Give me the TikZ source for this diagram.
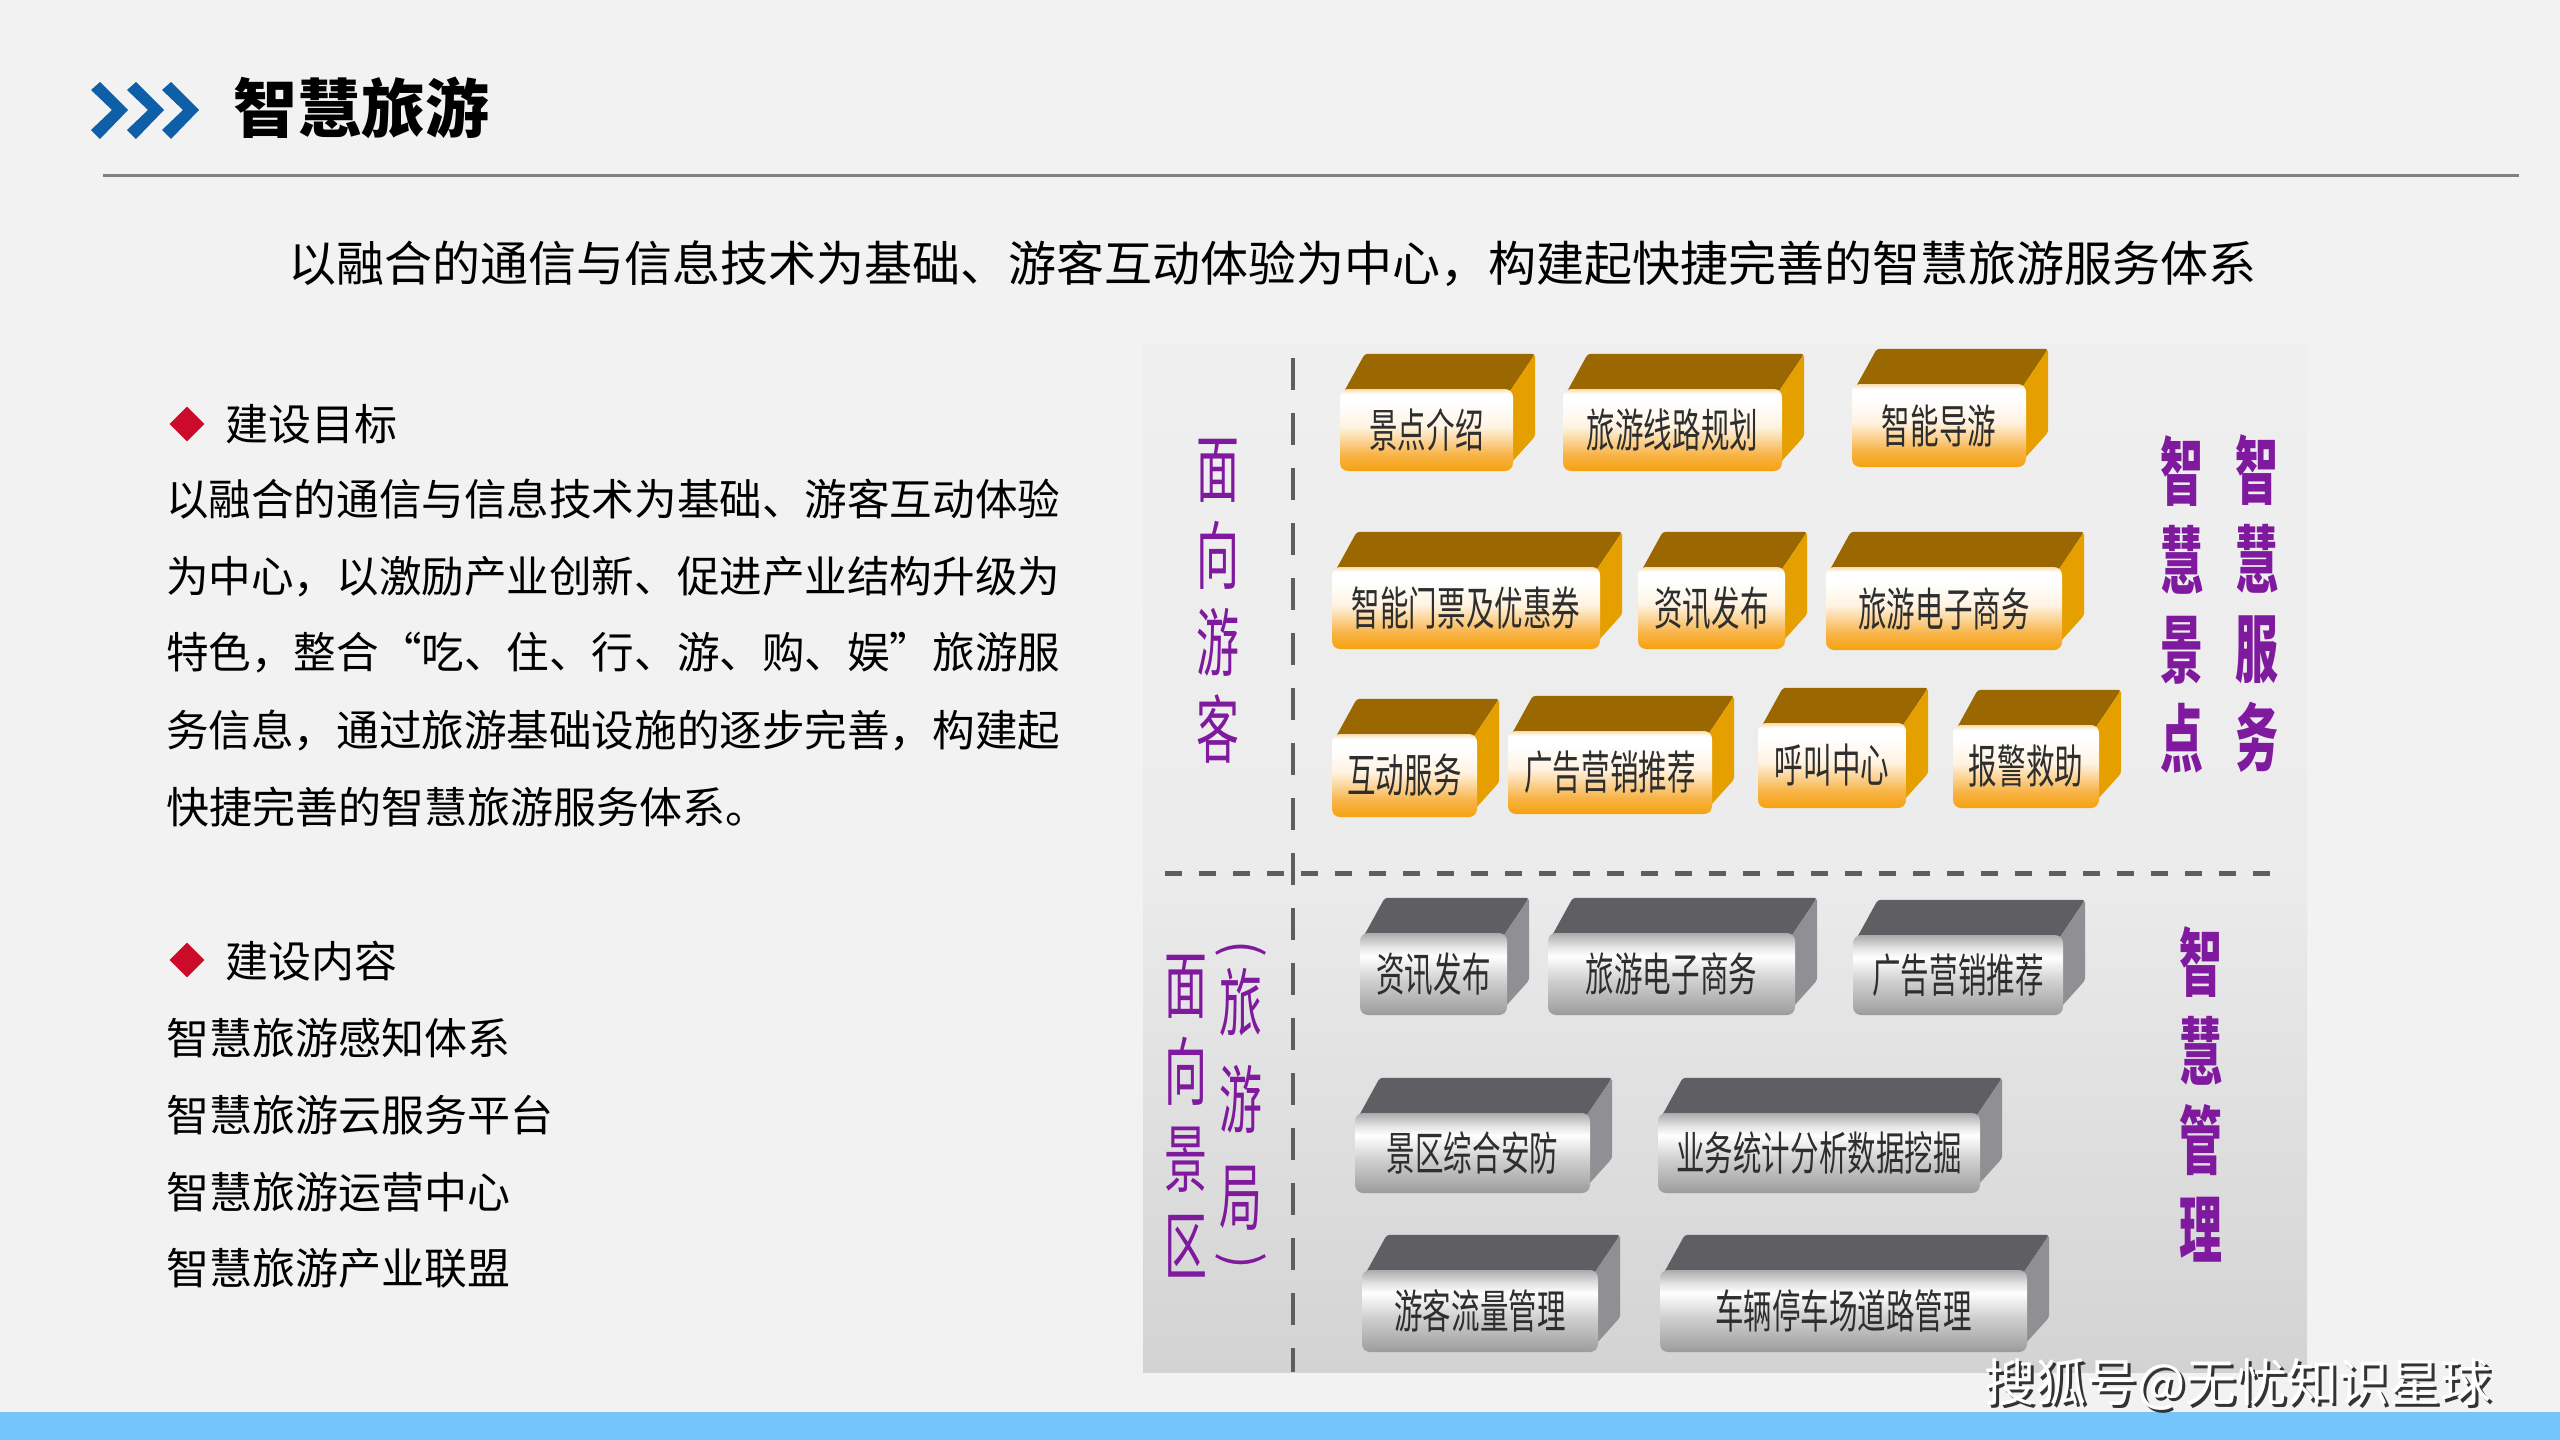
\documentclass[tikz,border=0pt]{standalone}
\usepackage{fontspec}
\usepackage{graphicx}
\usetikzlibrary{shapes.geometric}
\setmainfont{Noto Sans CJK SC}
\newfontfamily\cjk{Noto Sans CJK SC}
\newfontfamily\cjkn[FakeStretch=0.62]{Noto Sans CJK SC}
\newfontfamily\cjkp[FakeStretch=0.58]{Noto Sans CJK SC}

\definecolor{pagebg}{HTML}{F2F2F2}
\definecolor{chevc}{HTML}{0F5FA8}
\definecolor{rulec}{HTML}{808080}
\definecolor{diac}{HTML}{CC0A2A}
\definecolor{purp}{HTML}{7F1A9E}
\definecolor{barc}{HTML}{74C6FA}
\definecolor{dashc}{HTML}{5E5E5E}
\definecolor{txtg}{HTML}{2E2E2E}
\definecolor{gfa}{HTML}{F5A20F}
\definecolor{gfb}{HTML}{F8B448}
\definecolor{gfc}{HTML}{FFF3E2}
\definecolor{gfd}{HTML}{F9DDB0}
\definecolor{goldtopc}{HTML}{9A6700}
\definecolor{goldsidec}{HTML}{E5A000}
\definecolor{sfa}{HTML}{9A9A9A}
\definecolor{sfb}{HTML}{A6A6A6}
\definecolor{sfc}{HTML}{D2D2D2}
\definecolor{sfd}{HTML}{E2E2E2}
\definecolor{sfe}{HTML}{ABABAB}
\definecolor{graytopc}{HTML}{5F5F63}
\definecolor{graysidec}{HTML}{909094}
\definecolor{pna}{HTML}{D3D3D3}
\definecolor{pnb}{HTML}{ECECEC}
\definecolor{pnc}{HTML}{EFEFEF}

\pgfdeclareverticalshading{goldfrontsh}{100bp}{color(0bp)=(gfa); color(25bp)=(gfa); color(35bp)=(gfb); color(52bp)=(gfc); color(66bp)=(white); color(72bp)=(white); color(75bp)=(gfd); color(100bp)=(gfd)}
\pgfdeclareverticalshading{grayfrontsh}{100bp}{color(0bp)=(sfa); color(25bp)=(sfa); color(29bp)=(sfb); color(47bp)=(sfc); color(61bp)=(white); color(67bp)=(sfd); color(75bp)=(sfe); color(100bp)=(sfe)}
\pgfdeclareverticalshading{panelsh}{100bp}{color(0bp)=(pna); color(25bp)=(pna); color(50bp)=(pnb); color(75bp)=(pnc); color(100bp)=(pnc)}

\pgfdeclarelayer{bg}
\pgfdeclarelayer{faces}
\pgfsetlayers{bg,faces,main}

\tikzset{
  blockfront/.style={rounded corners=8pt, inner sep=0pt, text=txtg, font=\cjkn\fontsize{46}{50}\selectfont},
  goldfront/.style={blockfront, shading=goldfrontsh},
  grayfront/.style={blockfront, shading=grayfrontsh},
  goldtop/.style={fill=goldtopc, rounded corners=3pt},
  goldside/.style={fill=goldsidec, rounded corners=3pt},
  graytop/.style={fill=graytopc, rounded corners=3pt},
  grayside/.style={fill=graysidec, rounded corners=3pt},
  plabel/.style={text=purp, inner sep=0pt, align=center},
  bodytxt/.style={anchor=west, inner sep=0pt, text=black, font=\cjk\fontsize{43}{43}\selectfont},
  bullet/.style={diamond, fill=diac, inner sep=0pt, minimum size=35pt},
  vdash/.style={draw=dashc, line width=4pt, dash pattern=on 32pt off 23pt},
  hdash/.style={draw=dashc, line width=5pt, dash pattern=on 17pt off 17pt},
}

\newcommand\blk[7]{%
  \node[#6front, minimum width={#4-#2}, minimum height={#5-#3}] (#1) at ({(#2+#4)/2},{(#3+#5)/2}) {\raisebox{-4pt}{#7}};
  \begin{pgfonlayer}{faces}
    \fill[#6top] ([xshift=3pt,yshift=-5pt]#1.north west) -- ([shift={(25,-35)}]#1.north west) -- ([shift={(22,-35)}]#1.north east) -- ([xshift=-5pt,yshift=-5pt]#1.north east) -- cycle;
    \fill[#6side] ([xshift=-5pt,yshift=-5pt]#1.north east) -- ([shift={(22,-35)}]#1.north east) -- ([shift={(22,-35)}]#1.south east) -- ([xshift=-5pt,yshift=5pt]#1.south east) -- cycle;
  \end{pgfonlayer}}

\begin{document}
\begin{tikzpicture}[x=1pt,y=-1pt]
\useasboundingbox (0,0) rectangle (2560,1440);
\begin{pgfonlayer}{bg}
\fill[pagebg] (0,0) rectangle (2560,1440);
\fill[barc] (0,1412) rectangle (2560,1440);
\fill[shading=panelsh] (1143,344) rectangle (2307,1372);
\coordinate (vtop) at (1293,358);
\coordinate (vbot) at (1293,1372);
\coordinate (hleft) at (1165,873);
\coordinate (hright) at (2280,873);
\draw[vdash] (vtop) -- (vbot);
\draw[hdash] (hleft) -- (hright);
\end{pgfonlayer}

% title
\foreach \o in {0,36,71}{
  \fill[chevc] (100+\o,82) -- (128+\o,110) -- (100+\o,139) -- (91+\o,130) -- (112+\o,110) -- (91+\o,90) -- cycle;
}
\node[anchor=west, inner sep=0pt, font=\cjk\bfseries\fontsize{64}{64}\selectfont] (title) at (233,108) {智慧旅游};
\draw[rulec, line width=3pt] (103,175) -- (2519,175);

\node[inner sep=0pt, font=\cjk\fontsize{48}{48}\selectfont] (sub) at (1272,264) {以融合的通信与信息技术为基础、游客互动体验为中心，构建起快捷完善的智慧旅游服务体系};

% left text
\node[bullet] (d1) at (187,424) {};
\node[bodytxt] (h1) at (225,424) {建设目标};
\node[bodytxt] (p1) at (166,499) {\resizebox{894pt}{\height}{以融合的通信与信息技术为基础、游客互动体验}};
\node[bodytxt] (p2) at (166,577) {\resizebox{894pt}{\height}{为中心，以激励产业创新、促进产业结构升级为}};
\node[bodytxt] (p3) at (166,653) {\resizebox{894pt}{\height}{特色，整合“吃、住、行、游、购、娱”旅游服}};
\node[bodytxt] (p4) at (166,731) {\resizebox{894pt}{\height}{务信息，通过旅游基础设施的逐步完善，构建起}};
\node[bodytxt] (p5) at (166,807) {快捷完善的智慧旅游服务体系。};

\node[bullet] (d2) at (187,960) {};
\node[bodytxt] (h2) at (225,961) {建设内容};
\node[bodytxt] (c1) at (166,1038) {智慧旅游感知体系};
\node[bodytxt] (c2) at (166,1115) {智慧旅游云服务平台};
\node[bodytxt] (c3) at (166,1192) {智慧旅游运营中心};
\node[bodytxt] (c4) at (166,1268) {智慧旅游产业联盟};

% purple labels
\node[plabel, font=\cjkp\fontsize{74}{87}\selectfont] (lyk) at (1218,601) {面\\向\\游\\客};
\node[plabel, font=\cjkp\bfseries\fontsize{74}{89}\selectfont] (ljd) at (2182,604) {智\\慧\\景\\点};
\node[plabel, font=\cjkp\bfseries\fontsize{74}{89}\selectfont] (lfw) at (2257,604) {智\\慧\\服\\务};
\node[plabel, font=\cjkp\bfseries\fontsize{74}{89}\selectfont] (lgl) at (2201,1094) {智\\慧\\管\\理};
\node[plabel, font=\cjkp\fontsize{74}{87}\selectfont] (ljq) at (1186,1116) {面\\向\\景\\区};
\node[plabel, font=\cjkp\fontsize{74}{97}\selectfont] (llyj) at (1241,1099) {旅\\游\\局};
\node[plabel, font=\cjk\fontsize{50}{50}\selectfont] (lpo) at (1241,949) {\rotatebox{-90}{(}};
\node[plabel, font=\cjk\fontsize{50}{50}\selectfont] (lpc) at (1241,1261) {\rotatebox{-90}{)}};

% gold blocks
\blk{g1}{1340}{389}{1513}{471}{gold}{景点介绍}
\blk{g2}{1563}{389}{1782}{471}{gold}{旅游线路规划}
\blk{g3}{1852}{384}{2026}{467}{gold}{智能导游}
\blk{g4}{1332}{567}{1600}{649}{gold}{智能门票及优惠券}
\blk{g5}{1638}{567}{1785}{649}{gold}{资讯发布}
\blk{g6}{1826}{567}{2062}{650}{gold}{旅游电子商务}
\blk{g7}{1332}{734}{1477}{817}{gold}{互动服务}
\blk{g8}{1508}{731}{1712}{814}{gold}{广告营销推荐}
\blk{g9}{1758}{723}{1906}{808}{gold}{呼叫中心}
\blk{g10}{1953}{725}{2099}{808}{gold}{报警救助}

% gray blocks
\blk{s1}{1360}{933}{1507}{1015}{gray}{资讯发布}
\blk{s2}{1548}{933}{1795}{1015}{gray}{旅游电子商务}
\blk{s3}{1853}{935}{2063}{1015}{gray}{广告营销推荐}
\blk{s4}{1355}{1113}{1590}{1193}{gray}{景区综合安防}
\blk{s5}{1658}{1113}{1980}{1193}{gray}{业务统计分析数据挖掘}
\blk{s6}{1362}{1270}{1598}{1352}{gray}{游客流量管理}
\blk{s7}{1660}{1270}{2027}{1352}{gray}{车辆停车场道路管理}

% watermark
\node[inner sep=0pt, text=black!80, font=\cjk\fontsize{51}{51}\selectfont] (wms) at (2241,1387) {搜狐号@无忧知识星球};
\node[inner sep=0pt, text=white, font=\cjk\fontsize{51}{51}\selectfont] (wm) at (2238,1384) {搜狐号@无忧知识星球};
\end{tikzpicture}
\end{document}
